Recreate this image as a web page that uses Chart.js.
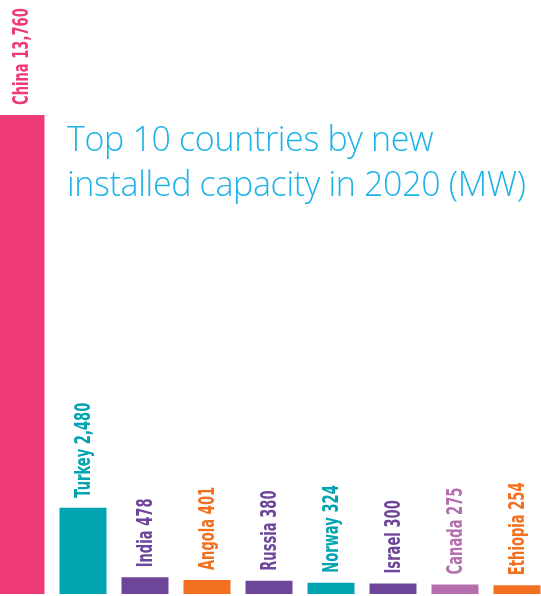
<!DOCTYPE html>
<html>
<head>
<meta charset="utf-8">
<script src="https://cdn.jsdelivr.net/npm/chart.js@4"></script>
<style>
  html, body { margin: 0; padding: 0; background: #fff; overflow: hidden; width: 541px; height: 596px; }
  #wrap { position: absolute; left: -10px; top: 0; width: 558px; height: 596px; }
  #title { position: absolute; left: 67px; top: 116px; color: #1DB3E6; font-family: "Open Sans", "Lato", sans-serif; font-weight: 300; font-size: 34px; line-height: 45px; white-space: nowrap; letter-spacing: -0.35px; }
</style>
</head>
<body>
<div id="wrap"><canvas id="c" width="558" height="596"></canvas></div>
<div id="title">Top 10 countries by new<br>installed capacity in 2020 (MW)</div>
<script>
const countries = ["China", "Turkey", "India", "Angola", "Russia", "Norway", "Israel", "Canada", "Ethiopia"];
const capacityMW = [13760, 2480, 478, 401, 380, 324, 300, 275, 254];
const valueLabels = ["13,760", "2,480", "478", "401", "380", "324", "300", "275", "254"];
const barColors = ["#EF3A7A", "#00A3AF", "#6E4699", "#F37021", "#6E4699", "#00A3AF", "#6E4699", "#B56FAF", "#F37021"];

const labelPlugin = {
  id: 'rotLabels',
  afterDatasetsDraw(chart) {
    const ctx = chart.ctx;
    const meta = chart.getDatasetMeta(0);
    ctx.save();
    ctx.font = 'bold 21px "DejaVu Sans Condensed", "DejaVu Sans", sans-serif';
    ctx.textAlign = 'left';
    ctx.textBaseline = 'middle';
    // condense text along its length to mimic a condensed bold face
    const squeeze = 95 / ctx.measureText("Turkey 2,480").width;
    meta.data.forEach((bar, i) => {
      ctx.save();
      ctx.translate(bar.x + 2, bar.y - 10);
      ctx.rotate(-Math.PI / 2);
      ctx.scale(squeeze, 1);
      ctx.fillStyle = barColors[i];
      ctx.fillText(countries[i] + " " + valueLabels[i], 0, 0);
      ctx.restore();
    });
    ctx.restore();
  }
};

new Chart(document.getElementById('c'), {
  type: 'bar',
  data: {
    labels: countries,
    datasets: [{
      data: capacityMW,
      backgroundColor: barColors,
      borderWidth: 0,
      barPercentage: 0.758,
      categoryPercentage: 1.0
    }]
  },
  options: {
    responsive: false,
    animation: false,
    layout: { padding: { left: 0, right: 0, top: 0, bottom: 2 } },
    plugins: { legend: { display: false }, tooltip: { enabled: false }, title: { display: false } },
    scales: {
      x: { display: false, offset: true },
      y: { display: false, min: 0, max: 17063 }
    }
  },
  plugins: [labelPlugin]
});
</script>
</body>
</html>
